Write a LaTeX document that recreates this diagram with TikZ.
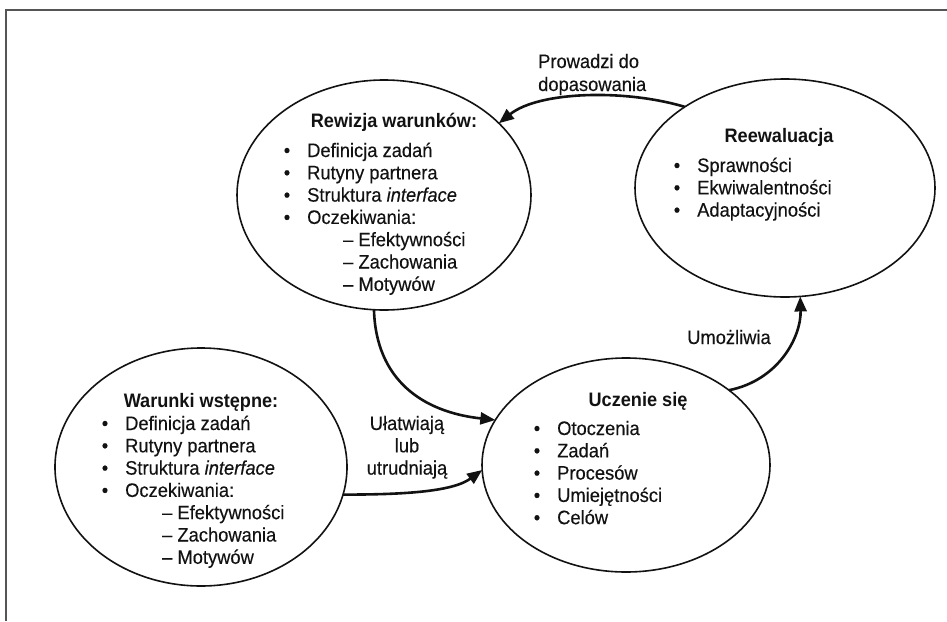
\documentclass[tikz,border=0pt]{standalone}
\usepackage{fontspec}
\setmainfont{Liberation Sans}[FakeStretch=0.94, FakeBold=0.3,
  BoldFeatures={FakeStretch=0.93, FakeBold=0}, ItalicFeatures={FakeStretch=0.94}]
\usetikzlibrary{arrows.meta,shapes.geometric}

\definecolor{ink}{HTML}{121212}
\definecolor{framegray}{HTML}{555555}

% one bulleted line: name, text x, baseline y, text
\newcommand\itemline[4]{%
  \node[txt,anchor=base] (#1-dot) at (#2-20,#3) {\textbullet};
  \node[txt,anchor=base west] (#1) at (#2,#3) {#4};}
% one indented dash line: name, x, baseline y, text
\newcommand\dashline[4]{%
  \node[txt,anchor=base west] (#1) at (#2,#3) {–\ #4};}

\begin{document}
\begin{tikzpicture}[x=1pt,y=-1pt,
  txt/.style={inner sep=0pt, text=ink, font=\fontsize{19.5pt}{22.3pt}\selectfont},
  ttl/.style={txt, font=\fontsize{19.5pt}{22.3pt}\selectfont\bfseries},
  bubble/.style={ellipse, draw=ink, line width=1.6pt, inner sep=0pt, outer sep=0pt},
  link/.style={draw=ink, line width=2.6pt, -{Triangle[length=15pt,width=12pt]}}]
\useasboundingbox (0,0) rectangle (947,621);

% open frame: left and top edges only
\draw[framegray, line width=2pt] (6,621) -- (6,10) -- (947,10);

% the four ellipses
\node[bubble, minimum width=294pt, minimum height=230pt] (rewi) at (384,195) {};
\node[bubble, minimum width=300pt, minimum height=218pt] (reew) at (785,188) {};
\node[bubble, minimum width=292pt, minimum height=238pt] (warn) at (201,467) {};
\node[bubble, minimum width=288pt, minimum height=214pt] (ucz)  at (626,465) {};

% Rewizja warunkow
\node[ttl,anchor=base] (rewi-t) at (394,127) {Rewizja warunków:};
\itemline{rewi-1}{307}{157}{Definicja zadań}
\itemline{rewi-2}{307}{179.3}{Rutyny partnera}
\itemline{rewi-3}{307}{201.6}{Struktura \textit{interface}}
\itemline{rewi-4}{307}{223.9}{Oczekiwania:}
\dashline{rewi-5}{343}{246.2}{Efektywności}
\dashline{rewi-6}{343}{268.5}{Zachowania}
\dashline{rewi-7}{343}{290.8}{Motywów}

% Reewaluacja
\node[ttl,anchor=base] (reew-t) at (779,142) {Reewaluacja};
\itemline{reew-1}{697}{172}{Sprawności}
\itemline{reew-2}{697}{194.3}{Ekwiwalentności}
\itemline{reew-3}{697}{216.6}{Adaptacyjności}

% Warunki wstepne
\node[ttl,anchor=base] (warn-t) at (201,407) {Warunki wstępne:};
\itemline{warn-1}{125}{430}{Definicja zadań}
\itemline{warn-2}{125}{452.3}{Rutyny partnera}
\itemline{warn-3}{125}{474.6}{Struktura \textit{interface}}
\itemline{warn-4}{125}{496.9}{Oczekiwania:}
\dashline{warn-5}{162}{519.2}{Efektywności}
\dashline{warn-6}{162}{541.5}{Zachowania}
\dashline{warn-7}{162}{563.8}{Motywów}

% Uczenie sie
\node[ttl,anchor=base] (ucz-t) at (638,406) {Uczenie się};
\itemline{ucz-1}{557}{435}{Otoczenia}
\itemline{ucz-2}{557}{457.3}{Zadań}
\itemline{ucz-3}{557}{479.6}{Procesów}
\itemline{ucz-4}{557}{501.9}{Umiejętności}
\itemline{ucz-5}{557}{524.2}{Celów}

% connector labels
\node[txt,anchor=base west] (lab-a1) at (538,68) {Prowadzi do};
\node[txt,anchor=base west] (lab-a2) at (538,91) {dopasowania};
\node[txt,anchor=base] (lab-b1) at (407,430) {Ułatwiają};
\node[txt,anchor=base] (lab-b2) at (407,452.3) {lub};
\node[txt,anchor=base] (lab-b3) at (407,474.6) {utrudniają};
\node[txt,anchor=base] (lab-c) at (729,344) {Umożliwia};

% connectors
\draw[link] (reew.141) .. controls +(-60,-18) and +(40,-32) .. (rewi.32);
\draw[link] (rewi.265) .. controls +(2,70) and +(-73,-8) .. (ucz.161);
\draw[link] (warn.349) .. controls +(58,0) and +(-30,22) .. (ucz.182);
\draw[link] (ucz.36) .. controls +(50,-10) and +(1,40) .. (reew.278);
\end{tikzpicture}
\end{document}
